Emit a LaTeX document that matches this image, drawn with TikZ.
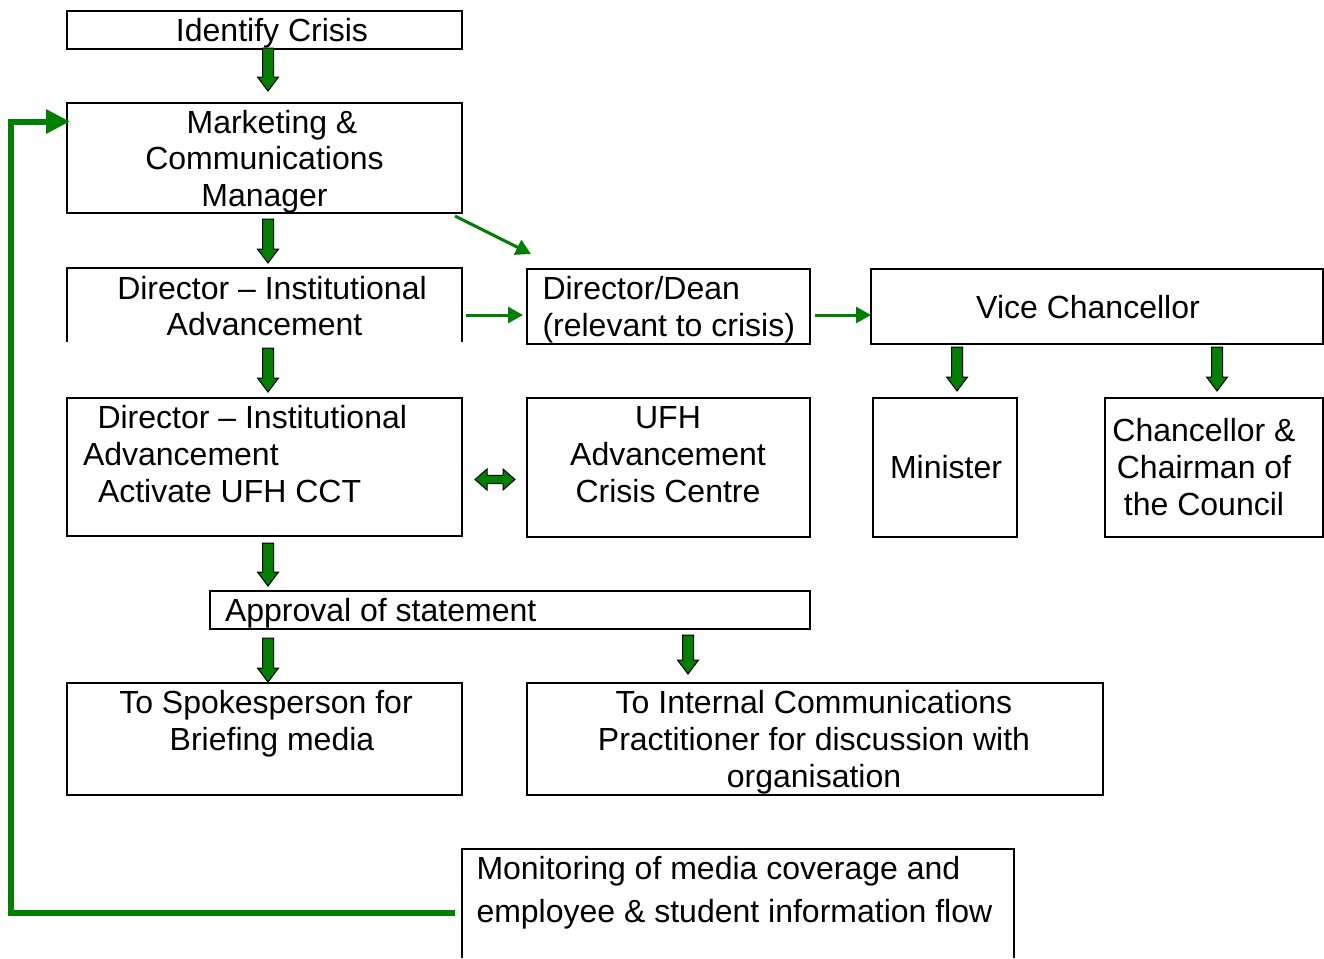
\documentclass[tikz,border=0pt]{standalone}
\usepackage{fontspec}
\setmainfont{Liberation Sans}
\usetikzlibrary{arrows.meta}
\definecolor{pgreen}{RGB}{0,128,0}
% block arrow pointing down: #1 centre x, #2 shaft top y, #3 tip y (pixel units)
\newcommand\dnarrow[3]{%
  \filldraw[blk] (#1-5.5,#2) -- (#1+5.5,#2) -- (#1+5.5,#3-14) -- (#1+10.5,#3-14)
    -- (#1,#3) -- (#1-10.5,#3-14) -- (#1-5.5,#3-14) -- cycle;}
\tikzset{
  box/.style={draw, line width=1.5pt, inner sep=0pt, outer sep=0pt},
  openbox/.style={inner sep=0pt, outer sep=0pt},
  boxline/.style={draw, line width=1.5pt},
  txt/.style={inner sep=0pt, outer sep=0pt, font=\fontsize{24pt}{27.6pt}\selectfont},
  blk/.style={fill=pgreen, draw=black, line width=0.75pt, line join=miter},
  garrow/.style={draw=pgreen, line width=2.25pt, -{Triangle[length=11.25pt,width=12pt]}},
  fb/.style={draw=pgreen, line width=4.5pt, line join=miter, -{Triangle[length=18pt,width=17.25pt]}},
}
\begin{document}
\begin{tikzpicture}[x=0.75pt,y=-0.75pt]
\useasboundingbox (0,0) rectangle (1324,958);

% boxes
\node[box, minimum width=395*0.75pt, minimum height=38*0.75pt] (id) at (264.5,30) {};
\node[box, minimum width=395*0.75pt, minimum height=110*0.75pt] (mk) at (264.5,158) {};
\node[openbox, minimum width=395*0.75pt, minimum height=74*0.75pt] (dia1) at (264.5,305) {};
\draw[boxline] (dia1.south west) |- (dia1.north east) -- (dia1.south east);
\node[box, minimum width=395*0.75pt, minimum height=138*0.75pt] (dia2) at (264.5,467) {};
\node[box, minimum width=283*0.75pt, minimum height=75*0.75pt] (dd) at (668.5,306.5) {};
\node[box, minimum width=452*0.75pt, minimum height=75*0.75pt] (vc) at (1097,306.5) {};
\node[box, minimum width=283*0.75pt, minimum height=139*0.75pt] (ufh) at (668.5,467.5) {};
\node[box, minimum width=144*0.75pt, minimum height=139*0.75pt] (min) at (945,467.5) {};
\node[box, minimum width=218*0.75pt, minimum height=139*0.75pt] (ch) at (1214,467.5) {};
\node[box, minimum width=600*0.75pt, minimum height=38*0.75pt] (ap) at (510,610) {};
\node[box, minimum width=395*0.75pt, minimum height=112*0.75pt] (sp) at (264.5,739) {};
\node[box, minimum width=576*0.75pt, minimum height=112*0.75pt] (ic) at (815,739) {};
\node[openbox, minimum width=552*0.75pt, minimum height=109*0.75pt] (mon) at (738,903.5) {};
\draw[boxline] (mon.south west) |- (mon.north east) -- (mon.south east);

% texts
\node[txt, anchor=base] (idt) at (272,41) {Identify Crisis};
\node[txt, anchor=base] (mkt) at (264.5,133) {\begin{tabular}[t]{@{}c@{}}\hspace*{11.25pt}Marketing \&\\Communications\\Manager\end{tabular}};
\node[txt, anchor=base] (dia1t) at (264.5,299) {\begin{tabular}[t]{@{}c@{}}\hspace*{11.25pt}Director – Institutional\\Advancement\end{tabular}};
\node[txt, anchor=base west] (dia2t) at (83,428.5) {\begin{tabular}[t]{@{}l@{}}\hspace*{10.9pt}Director – Institutional\\Advancement\\\hspace*{11.25pt}Activate UFH CCT\end{tabular}};
\node[txt, anchor=base west] (ddt) at (542.5,299.5) {\begin{tabular}[t]{@{}l@{}}Director/Dean\\(relevant to crisis)\end{tabular}};
\node[txt, anchor=base] (vct) at (1088,318) {Vice Chancellor};
\node[txt, anchor=base] (ufht) at (668,428.5) {\begin{tabular}[t]{@{}c@{}}UFH\\Advancement\\Crisis Centre\end{tabular}};
\node[txt, anchor=base] (mint) at (946,478.5) {Minister};
\node[txt, anchor=base] (cht) at (1204,441.5) {\begin{tabular}[t]{@{}c@{}}Chancellor \&\\Chairman of\\the Council\end{tabular}};
\node[txt, anchor=base west] (apt) at (225,621.5) {Approval of statement};
\node[txt, anchor=base] (spt) at (266,713.5) {\begin{tabular}[t]{@{}c@{}}To Spokesperson for\\\hspace*{9pt}Briefing media\end{tabular}};
\node[txt, anchor=base] (ict) at (814,713.5) {\begin{tabular}[t]{@{}c@{}}To Internal Communications\\Practitioner for discussion with\\organisation\end{tabular}};
\node[txt, anchor=base west] (mont) at (476.5,879.5) {\begin{tabular}[t]{@{}l@{}}Monitoring of media coverage and\\[4.65pt]employee \& student information flow\end{tabular}};

% block arrows
\dnarrow{268}{48}{91}
\dnarrow{268}{219}{263}
\dnarrow{268}{348}{392}
\dnarrow{268}{543}{586}
\dnarrow{268}{638}{682}
\dnarrow{688}{635}{674}
\dnarrow{957}{347}{391}
\dnarrow{1217}{347}{391}
% double block arrow
\filldraw[blk] (475,479.5) -- (487,469) -- (487,475.3) -- (503,475.3) -- (503,469)
  -- (515,479.5) -- (503,490) -- (503,483.7) -- (487,483.7) -- (487,490) -- cycle;

% thin green arrows
\draw[garrow] ([shift={(4,10)}]dia1.east) -- ([shift={(-4,8.5)}]dd.west);
\draw[garrow] ([shift={(5,8.5)}]dd.east) -- ([shift={(0,8.5)}]vc.west);
\draw[garrow] ([shift={(-7,3)}]mk.south east) -- ([shift={(4,-15)}]dd.north west);

% feedback loop
\coordinate (fbA) at (455,912.5);
\coordinate (fbC) at (11,121.5);
\coordinate (fbB) at (70,121.5);
\draw[fb] (fbA) -| (fbC) -- (fbB);
\end{tikzpicture}
\end{document}
